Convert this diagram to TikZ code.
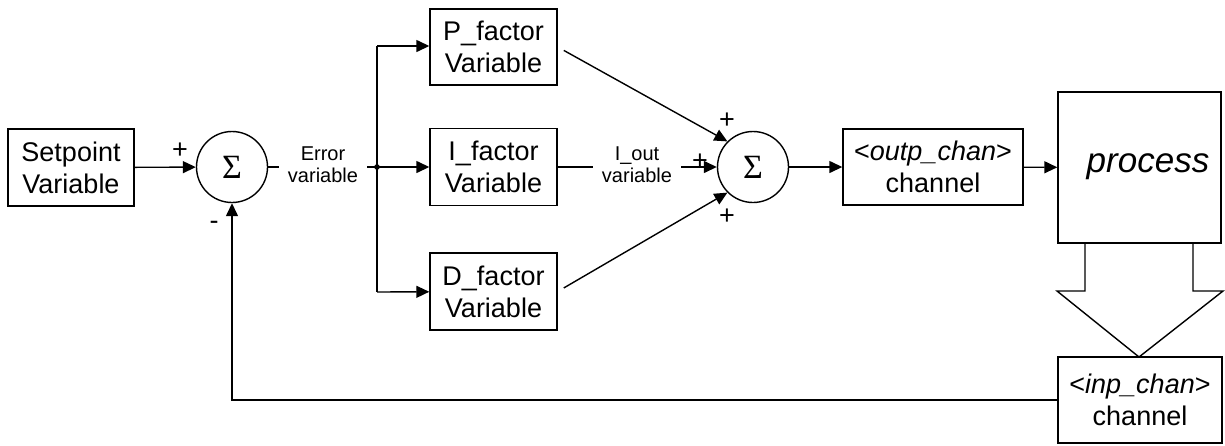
\documentclass[tikz,border=0pt]{standalone}
\usepackage{fontspec}
\setmainfont{Liberation Sans}
\newfontfamily\sigmafont{Liberation Serif}
\usetikzlibrary{arrows.meta}
\begin{document}
\begin{tikzpicture}[x=1pt,y=-1pt,
  line width=1.4pt,
  blk/.style={draw, rectangle, inner sep=0pt, align=center, font=\fontsize{27}{32}\selectfont},
  sumnode/.style={draw, circle, minimum size=71pt, inner sep=0pt, font=\sigmafont\fontsize{34}{34}\selectfont},
  lbl/.style={fill=white, inner ysep=1pt, inner xsep=9pt, align=center, font=\fontsize{20}{22}\selectfont},
  sgn/.style={inner sep=0pt, font=\fontsize{27}{27}\selectfont},
  arr/.style={-{Triangle[length=13pt,width=12pt]}}
]
\useasboundingbox (0,0) rectangle (1225,445);

\node[blk, minimum width=126pt, minimum height=77pt] (sp) at (71,167.5) {Setpoint\\Variable};
\node[sumnode] (s1) at (232,167) {Σ};
\node[sgn] (plus1) at (180,151) {+};
\node[sgn] (minus1) at (214,225) {-};
\coordinate (j) at (377,167);
\coordinate (jt) at (377,46);
\coordinate (jb) at (377,292);

\node[blk, minimum width=127pt, minimum height=76pt] (P) at (493.5,47) {P\_factor\\Variable};
\node[blk, minimum width=127pt, minimum height=77pt] (I) at (493.5,167) {I\_factor\\Variable};
\node[blk, minimum width=127pt, minimum height=77pt] (D) at (493.5,291.5) {D\_factor\\Variable};

\node[sumnode] (s2) at (753,167) {Σ};
\node[sgn] (plus2) at (727,121) {+};
\node[sgn] (plus3) at (727,217) {+};

\node[blk, minimum width=180pt, minimum height=76pt] (outp) at (933,167) {<\textit{outp\_chan}>\\channel};
\node[draw, rectangle, minimum width=163pt, minimum height=151pt, inner sep=0pt] (proc) at (1139.5,167.5) {};
\node[inner sep=0pt, font=\fontsize{35}{35}\selectfont\itshape] (proctext) at (1148,167) {process};
\node[blk, minimum width=164pt, minimum height=86pt] (inp) at (1140,400) {<\textit{inp\_chan}>\\channel};

% connectors
\draw[arr] (sp) -- (s1);
\draw (s1) -- (j);
\node[lbl] (err) at (323,165) {Error\\variable};
\fill (j) circle (2.8pt);
\draw (jt) -- (jb);
\draw[arr] (jt) -- (P.west |- jt);
\draw[arr] (j) -- (I);
\draw[arr] (jb) -- (D);

\draw[arr] (I) -- (s2);
\node[lbl] (iout) at (637,165) {I\_out\\variable};
\node[sgn] (plusI) at (700,162) {+};
\draw[arr, shorten <=7pt] (P.east) -- (s2.135);
\draw[arr, shorten <=7pt] (D.east) -- (s2.225);
\draw[arr] (s2) -- (outp);
\draw[arr] (outp) -- (proc);

% big hollow arrow
\draw[line join=miter] (1085,243) -- (1085,291) -- (1057,291) -- (1139,357) -- (1223,291) -- (1193,291) -- (1193,243);

% feedback
\draw[arr] (inp.west) -| (s1.south);
\end{tikzpicture}
\end{document}
